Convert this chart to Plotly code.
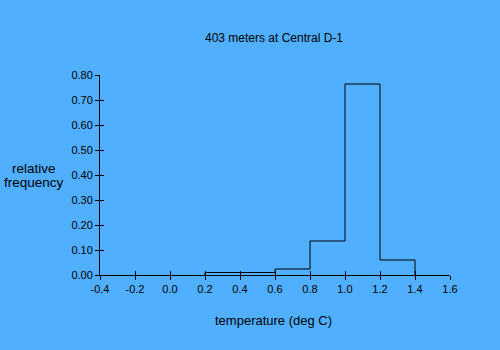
import numpy as np
import plotly.graph_objects as go

# Histogram of temperature readings (bin edges in deg C, relative frequency per bin)
bin_edges = [0.2, 0.4, 0.6, 0.8, 1.0, 1.2, 1.4]
rel_freq = [0.01, 0.01, 0.024, 0.136, 0.764, 0.06]

x_ticks = [-0.4, -0.2, 0.0, 0.2, 0.4, 0.6, 0.8, 1.0, 1.2, 1.4, 1.6]
y_ticks = [0.0, 0.1, 0.2, 0.3, 0.4, 0.5, 0.6, 0.7, 0.8]

# Step outline of the histogram: rise at the first edge, drop at the last
step_x = [bin_edges[0]] + list(bin_edges) + [bin_edges[-1]]
step_y = [0.0] + list(rel_freq) + [rel_freq[-1], 0.0]

BG = "#50AFFF"
FONT = "Liberation Sans, Arial, sans-serif"

fig = go.Figure()
fig.add_trace(go.Scatter(
    x=step_x, y=step_y, mode="lines",
    line=dict(color="black", width=1, shape="hv"),
    showlegend=False, hoverinfo="skip",
))
# companion trace so the overlay axes (second tick side) are drawn
fig.add_trace(go.Scatter(x=[None], y=[None], xaxis="x2", yaxis="y2",
                         showlegend=False, hoverinfo="skip"))

axis_common = dict(showgrid=False, zeroline=False, color="black",
                   linecolor="black", linewidth=1, tickcolor="black",
                   tickwidth=1, ticklen=4)

fig.update_layout(
    width=500, height=350,
    margin=dict(l=100, r=50, t=75, b=75),
    paper_bgcolor=BG, plot_bgcolor=BG,
    font=dict(family=FONT, size=11, color="black"),
    xaxis=dict(range=[-0.4, 1.6], tickvals=x_ticks,
               ticktext=[f"{v:.1f}" for v in x_ticks],
               showline=True, ticks="outside", **axis_common),
    yaxis=dict(range=[0, 0.8], tickvals=y_ticks,
               ticktext=[f"{v:.2f}" for v in y_ticks],
               showline=True, ticks="outside", **axis_common),
    xaxis2=dict(range=[-0.4, 1.6], tickvals=x_ticks, overlaying="x",
                anchor="y", side="bottom", showticklabels=False,
                showline=False, ticks="inside", **axis_common),
    yaxis2=dict(range=[0, 0.8], tickvals=y_ticks, overlaying="y",
                anchor="x", side="left", showticklabels=False,
                showline=False, ticks="inside", **axis_common),
    title=dict(text="403 meters at Central D-1", x=0.548, xanchor="center",
               y=1 - 38 / 350, yanchor="middle", yref="container",
               font=dict(family=FONT, size=12, color="black")),
    annotations=[
        dict(text="temperature (deg C)", xref="paper", yref="paper",
             x=0.496, y=-0.225, xanchor="center", yanchor="middle",
             showarrow=False, font=dict(family=FONT, size=13, color="black")),
        dict(text="relative", xref="paper", yref="paper",
             x=(34.5 - 100.5) / 350, y=0.535, xanchor="center",
             yanchor="middle", showarrow=False,
             font=dict(family=FONT, size=13.5, color="black")),
        dict(text="frequency", xref="paper", yref="paper",
             x=(34 - 100.5) / 350, y=0.465, xanchor="center",
             yanchor="middle", showarrow=False,
             font=dict(family=FONT, size=13.5, color="black")),
    ],
)

fig.write_html("out.html")
